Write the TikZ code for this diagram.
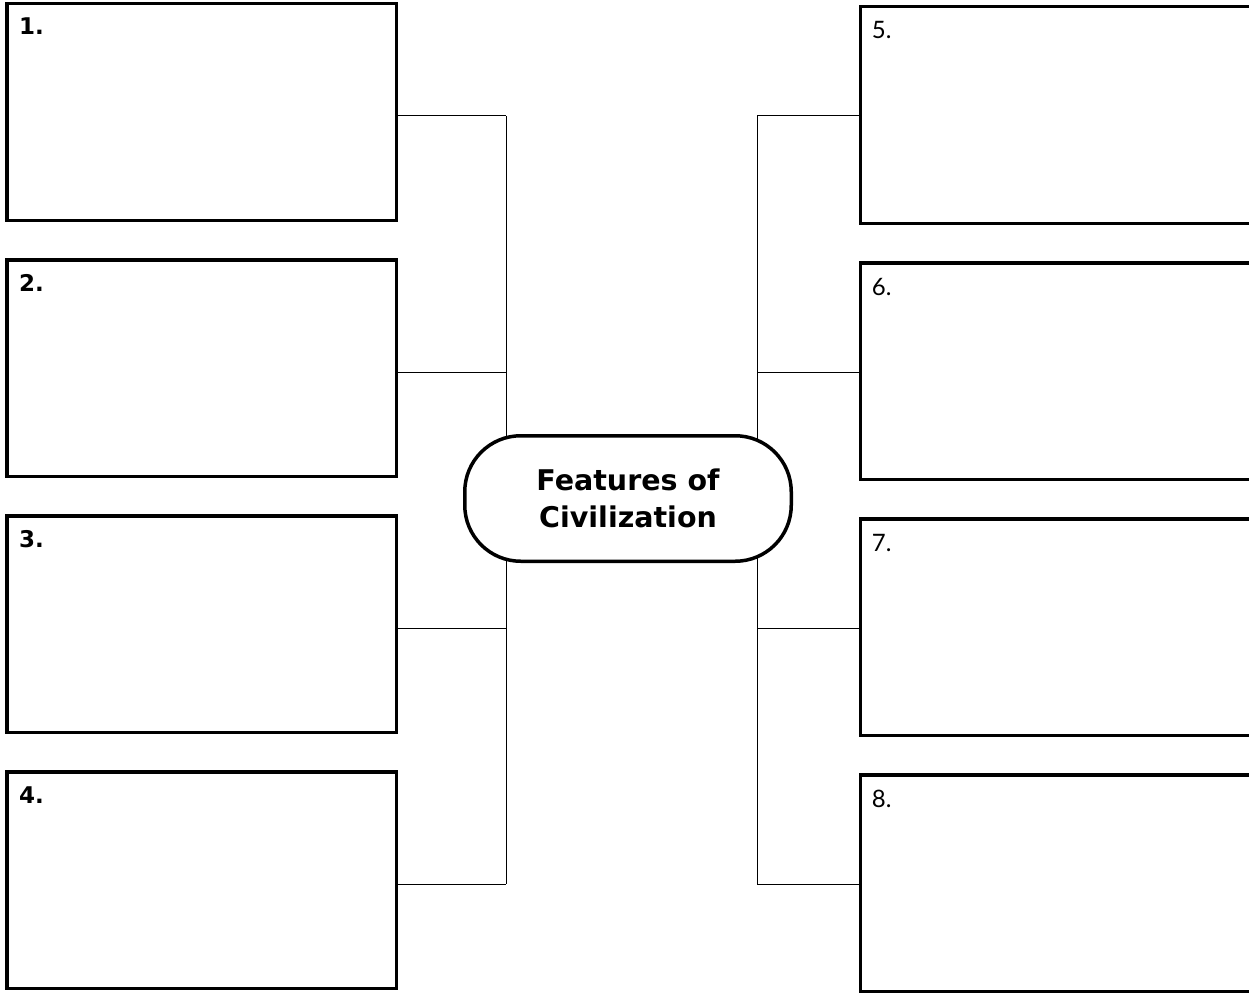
\documentclass[tikz,border=0pt]{standalone}
\usepackage{fontspec}
\newfontfamily\dvsans{DejaVu Sans}
\newfontfamily\ltsans{Lato}
\begin{document}
\begin{tikzpicture}[x=1pt,y=-1pt,
  box/.style={draw, line width=3.5pt, rectangle, inner sep=0pt, minimum height=216.5pt},
  lbox/.style={box, minimum width=389.5pt},
  rbox/.style={box, minimum width=420pt},
  conn/.style={line width=1pt},
  numL/.style={anchor=base west, inner sep=0pt, font=\dvsans\bfseries\fontsize{23}{27}\selectfont},
  numR/.style={anchor=base west, inner sep=0pt, font=\ltsans\fontsize{24}{28}\selectfont},
  hub/.style={draw, line width=3.5pt, fill=white, rounded corners=56pt, minimum width=326.5pt, minimum height=125.5pt, inner sep=0pt, align=center, font=\dvsans\bfseries\fontsize{28.5}{37}\selectfont}
]
\clip (0,0) rectangle (1249,995);
\fill[white] (0,0) rectangle (1249,995);

% left boxes
\node[lbox] (b1) at (201.5,112) {};
\node[lbox] (b2) at (201.5,368) {};
\node[lbox] (b3) at (201.5,624) {};
\node[lbox] (b4) at (201.5,880) {};
% right boxes
\node[rbox] (b5) at (1070.5,115) {};
\node[rbox] (b6) at (1070.5,371) {};
\node[rbox] (b7) at (1070.5,627) {};
\node[rbox] (b8) at (1070.5,883) {};

% labels
\node[numL] (n1) at ([xshift=14pt,yshift=-33pt]b1.north west) {1.};
\node[numL] (n2) at ([xshift=14pt,yshift=-33pt]b2.north west) {2.};
\node[numL] (n3) at ([xshift=14pt,yshift=-33pt]b3.north west) {3.};
\node[numL] (n4) at ([xshift=14pt,yshift=-33pt]b4.north west) {4.};
\node[numR] (n5) at ([xshift=13pt,yshift=-34pt]b5.north west) {5.};
\node[numR] (n6) at ([xshift=13pt,yshift=-34pt]b6.north west) {6.};
\node[numR] (n7) at ([xshift=13pt,yshift=-34pt]b7.north west) {7.};
\node[numR] (n8) at ([xshift=13pt,yshift=-34pt]b8.north west) {8.};

% junctions
\coordinate (jl1) at (506,116);
\coordinate (jl2) at (506,372);
\coordinate (jl3) at (506,628);
\coordinate (jl4) at (506,884);
\coordinate (jr1) at (757,116);
\coordinate (jr2) at (757,372);
\coordinate (jr3) at (757,628);
\coordinate (jr4) at (757,884);

\draw[conn] (jl1) -- (jl4);
\draw[conn] (jr1) -- (jr4);
\draw[conn] (b1.east |- jl1) -- (jl1);
\draw[conn] (b2.east |- jl2) -- (jl2);
\draw[conn] (b3.east |- jl3) -- (jl3);
\draw[conn] (b4.east |- jl4) -- (jl4);
\draw[conn] (b5.west |- jr1) -- (jr1);
\draw[conn] (b6.west |- jr2) -- (jr2);
\draw[conn] (b7.west |- jr3) -- (jr3);
\draw[conn] (b8.west |- jr4) -- (jr4);

% hub
\node[hub] (hub) at (628,498.5) {Features of\\Civilization};
\end{tikzpicture}
\end{document}
